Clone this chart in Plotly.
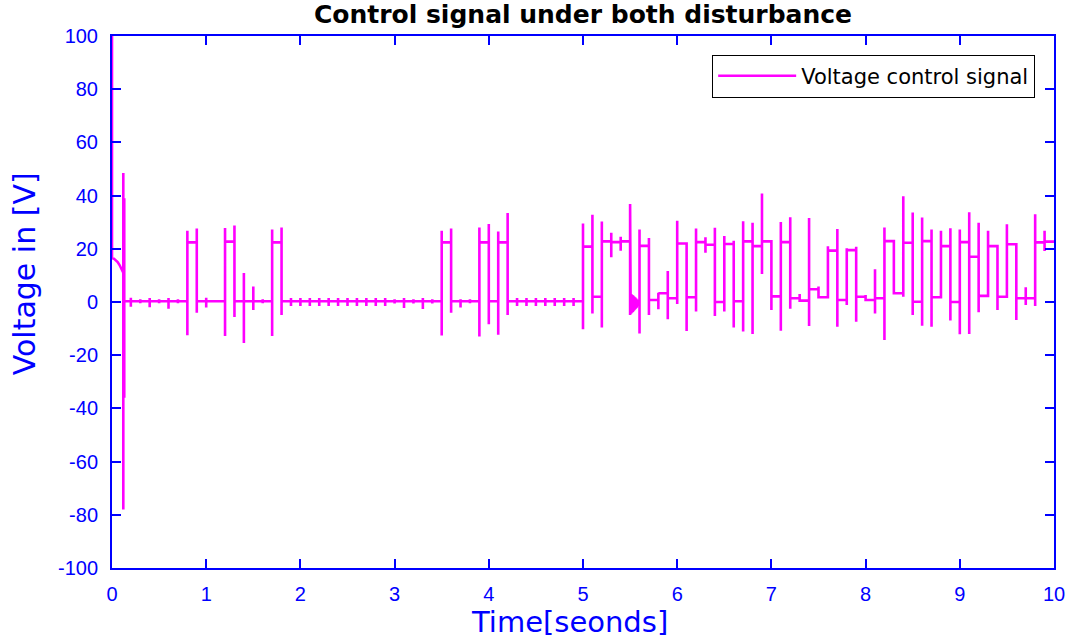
import plotly.graph_objects as go

# initial transient
start_t = [0.0, 0.0]
start_v = [100.0, 16.5]
decay_t = [0.02, 0.04, 0.06, 0.08, 0.10, 0.115]
decay_v = [16.3, 15.8, 15.0, 13.9, 12.5, 11.0]

# switching events: time, lowest value, highest value, level after the event
ev_t = [0.12, 0.13, 0.2, 0.3, 0.4, 0.5, 0.6, 0.7, 0.8, 0.9, 1.0, 1.2, 1.3, 1.4, 1.5, 1.6, 1.7, 1.8,
        1.9, 2.0, 2.1, 2.2, 2.3, 2.4, 2.5, 2.6, 2.7, 2.8, 2.9, 3.0, 3.1, 3.2, 3.3, 3.4,
        3.5, 3.6, 3.7, 3.8, 3.9, 4.0, 4.1, 4.2, 4.3, 4.4, 4.5, 4.6, 4.7, 4.8, 4.9,
        5.0, 5.1, 5.2, 5.3, 5.4, 5.5]
ev_lo = [-78.0, -36.0, -1.8, -0.5, -2.0, -0.5, -2.5, -0.5, -12.5, -4.0, -2.1, -12.8, -5.6, -15.4, -3.0, -0.5, -12.8, -4.9,
         -1.5, -1.5, -1.5, -1.5, -1.5, -1.5, -1.5, -1.5, -1.5, -1.5, -1.5, -0.6, -2.3, -0.6, -2.6, -0.6,
         -12.6, -4.0, -2.1, -0.5, -13.0, -8.4, -12.3, -4.9, -1.5, -1.5, -1.5, -1.5, -1.5, -1.5, -1.5,
         -10.2, -4.3, -9.6, 16.8, 19.3, -4.9]
ev_hi = [48.5, 39.0, 1.6, 1.0, 1.5, 1.0, 1.5, 1.0, 26.8, 27.6, 1.6, 27.8, 28.8, 10.9, 5.8, 1.0, 27.3, 28.0,
         1.5, 1.5, 1.5, 1.5, 1.5, 1.5, 1.5, 1.5, 1.5, 1.5, 1.5, 1.0, 1.5, 1.0, 1.5, 1.0,
         26.8, 27.6, 1.0, 1.0, 28.0, 29.3, 26.5, 33.5, 1.5, 1.5, 1.5, 1.5, 1.5, 1.5, 1.5,
         29.5, 32.8, 30.3, 26.0, 24.5, 36.8]
ev_lvl = [0.3, 0.3, 0.3, 0.3, 0.3, 0.3, 0.3, 0.3, 22.4, 0.3, 0.3, 22.7, 0.3, 0.3, 0.3, 0.3, 22.4, 0.3,
          0.3, 0.3, 0.3, 0.3, 0.3, 0.3, 0.3, 0.3, 0.3, 0.3, 0.3, 0.3, 0.3, 0.3, 0.3, 0.3,
          22.4, 0.3, 0.3, 0.3, 22.4, 0.3, 22.4, 0.3, 0.3, 0.3, 0.3, 0.3, 0.3, 0.3, 0.3,
          20.8, 2.0, 22.8, 22.5, 22.8, 0.0]

# chattering right after t = 5.5
chat_t = [5.505, 5.51, 5.515, 5.52, 5.525, 5.53, 5.535, 5.54, 5.545, 5.55, 5.555, 5.56,
          5.565, 5.57, 5.575, 5.58, 5.585, 5.59]
chat_v = [3.2, -4.4, 2.9, -4.0, 2.6, -3.7, 2.3, -3.3, 2.0, -2.9, 1.7, -2.5,
          1.3, -2.1, 0.9, -1.6, 0.4, -1.0]

ev2_t = [5.6, 5.7, 5.8, 5.9, 6.0, 6.1, 6.2, 6.3, 6.4, 6.5, 6.6, 6.7, 6.8, 6.9, 7.0, 7.1, 7.2, 7.3, 7.4,
         7.5, 7.6, 7.7, 7.8, 7.9, 8.0, 8.1, 8.2, 8.3, 8.4, 8.5, 8.6, 8.7, 8.8, 8.9, 9.0, 9.1, 9.2,
         9.3, 9.4, 9.5, 9.6, 9.7, 9.8, 9.9]
ev2_lo = [-11.8, -4.9, -2.7, -6.5, -0.75, -10.9, -3.6, 18.5, -5.3, -3.6, -9.6, -11.1, -12.0, 10.5, -3.0,
          -10.8, -2.5, 0.1, -9.0, 1.8, 1.8, -9.3, -1.1, -7.4, 0.5, -4.3, -14.3, 3.3, 2.0, -4.9, -8.9,
          -9.3, 1.8, -7.0, -12.1, -12.0, -3.9, 2.3, -3.0, 2.0, -6.8, -1.1, -1.5, 19.2]
ev2_hi = [27.3, 24.1, 3.5, 11.7, 30.5, 22.0, 27.6, 24.3, 27.9, 24.8, 23.0, 30.4, 29.8, 40.8, 22.6,
          30.1, 31.9, 3.0, 31.6, 5.8, 21.0, 27.4, 20.2, 20.8, 2.6, 12.3, 28.0, 22.9, 39.8, 33.6, 31.8,
          27.3, 26.8, 27.7, 27.3, 33.7, 29.8, 26.8, 21.0, 29.2, 21.7, 5.5, 33.0, 26.8]
ev2_lvl = [21.1, 0.75, 3.3, 1.4, 22.0, 1.8, 22.5, 21.5, 0.0, 21.8, 0.3, 22.8, 21.0, 22.8, 2.1,
           22.5, 1.4, 0.5, 4.8, 1.8, 19.3, 0.75, 19.5, 2.0, 0.75, 1.4, 22.9, 3.3, 22.3, 0.1, 22.9,
           1.8, 21.0, 0.0, 22.5, 17.0, 2.3, 21.0, 2.0, 21.7, 1.4, 1.4, 22.4, 22.7]
end_t = 10.0

# axis tick labels
x_ticks = [0, 1, 2, 3, 4, 5, 6, 7, 8, 9, 10]
x_labels = ["0", "1", "2", "3", "4", "5", "6", "7", "8", "9", "10"]
y_ticks = [-100, -80, -60, -40, -20, 0, 20, 40, 60, 80, 100]
y_labels = ["-100", "-80", "-60", "-40", "-20", "0", "20", "40", "60", "80", "100"]

# build the trace
xs = list(start_t) + list(decay_t)
ys = list(start_v) + list(decay_v)
level = ys[-1]


def add_events(ts, los, his, lvls):
    global level
    for t, lo, hi, lv in zip(ts, los, his, lvls):
        xs.extend([t, t, t, t])
        ys.extend([level, lo, hi, lv])
        level = lv


add_events(ev_t, ev_lo, ev_hi, ev_lvl)
xs.extend(chat_t)
ys.extend(chat_v)
level = chat_v[-1]
add_events(ev2_t, ev2_lo, ev2_hi, ev2_lvl)
xs.append(end_t)
ys.append(level)

blue = "#0000FF"
font = "Arial, Liberation Sans, sans-serif"
wide = "DejaVu Sans, sans-serif"

fig = go.Figure()
fig.add_trace(go.Scatter(x=xs, y=ys, mode="lines", name="Voltage control signal",
                         line=dict(color="#FF00FF", width=2.6)))

axis_common = dict(showline=True, linecolor=blue, linewidth=2, mirror="ticks",
                   ticks="inside", ticklen=9, tickwidth=2, tickcolor=blue,
                   showgrid=False, zeroline=False,
                   tickfont=dict(family=font, size=20, color=blue))

fig.update_xaxes(range=[0, 10], tickmode="array", tickvals=x_ticks, ticktext=x_labels,
                 ticklabelstandoff=7, **axis_common)
fig.update_yaxes(range=[-100, 100], tickmode="array", tickvals=y_ticks, ticktext=y_labels,
                 ticklabelstandoff=8, **axis_common)

fig.add_annotation(text="Time[seonds]", xref="paper", yref="paper", x=0.486, y=-0.137,
                   xanchor="center", yanchor="bottom", showarrow=False,
                   font=dict(family=wide, size=29, color=blue))
fig.add_annotation(text="Voltage in [V]", xref="paper", yref="paper", x=-0.093, y=0.553,
                   xanchor="center", yanchor="middle", showarrow=False, textangle=-90,
                   font=dict(family=wide, size=30, color=blue))

fig.update_layout(
    width=1077, height=642,
    margin=dict(l=112, r=18, t=36, b=74),
    paper_bgcolor="white", plot_bgcolor="white",
    title=dict(text="<b>Control signal under both disturbance</b>", x=0.5, xanchor="center",
               xref="paper", y=0.992, yanchor="top",
               font=dict(family=wide, size=25, color="black")),
    showlegend=True,
    legend=dict(x=0.98, y=0.965, xanchor="right", yanchor="top", itemwidth=78,
                bordercolor="black", borderwidth=1, bgcolor="white",
                font=dict(family=wide, size=21, color="black")),
)

fig.write_html("out.html")
